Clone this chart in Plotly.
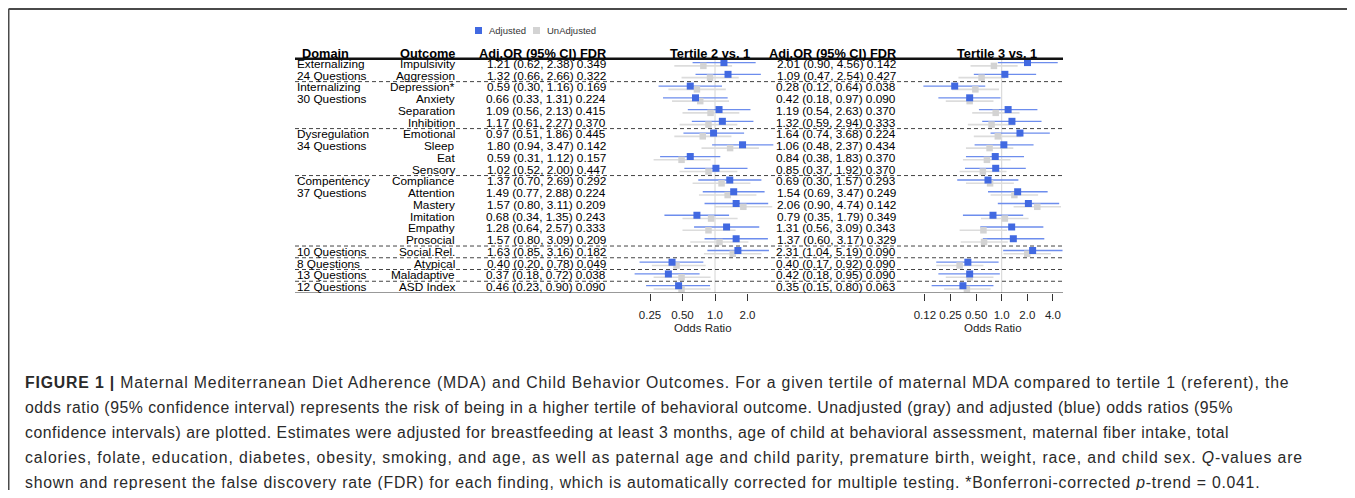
import math
import plotly.graph_objects as go

# ---------------- data ----------------
domains = ["Externalizing", "24 Questions", "Internalizing", "30 Questions", "", "",
           "Dysregulation", "34 Questions", "", "", "Compentency", "37 Questions",
           "", "", "", "", "10 Questions", "8 Questions", "13 Questions", "12 Questions"]
outcomes = ["Impulsivity", "Aggression", "Depression*", "Anxiety", "Separation", "Inhibition",
            "Emotional", "Sleep", "Eat", "Sensory", "Compliance", "Attention", "Mastery",
            "Imitation", "Empathy", "Prosocial", "Social.Rel.", "Atypical", "Maladaptive", "ASD Index"]

# Tertile 2 vs 1 - adjusted
t2_or = [1.21, 1.32, 0.59, 0.66, 1.09, 1.17, 0.97, 1.80, 0.59, 1.02, 1.37, 1.49, 1.57, 0.68, 1.28, 1.57, 1.63, 0.40, 0.37, 0.46]
t2_lo = [0.62, 0.66, 0.30, 0.33, 0.56, 0.61, 0.51, 0.94, 0.31, 0.52, 0.70, 0.77, 0.80, 0.34, 0.64, 0.80, 0.85, 0.20, 0.18, 0.23]
t2_hi = [2.38, 2.66, 1.16, 1.31, 2.13, 2.27, 1.86, 3.47, 1.12, 2.00, 2.69, 2.88, 3.11, 1.35, 2.57, 3.09, 3.16, 0.78, 0.72, 0.90]
t2_fdr = [0.349, 0.322, 0.169, 0.224, 0.415, 0.370, 0.445, 0.142, 0.157, 0.447, 0.292, 0.224, 0.209, 0.243, 0.333, 0.209, 0.182, 0.049, 0.038, 0.090]
# Tertile 2 vs 1 - unadjusted
t2_un_or = [0.78, 0.90, 0.68, 0.73, 0.91, 0.87, 0.77, 1.38, 0.49, 0.87, 1.15, 1.31, 1.83, 0.92, 0.87, 1.10, 1.46, 0.44, 0.49, 0.49]
t2_un_lo = [0.42, 0.49, 0.37, 0.40, 0.50, 0.47, 0.42, 0.75, 0.27, 0.47, 0.62, 0.71, 0.99, 0.50, 0.50, 0.59, 0.79, 0.26, 0.27, 0.27]
t2_un_hi = [1.44, 1.66, 1.26, 1.35, 1.68, 1.61, 1.42, 2.55, 0.91, 1.61, 2.13, 2.42, 3.39, 1.62, 1.55, 2.04, 2.70, 0.82, 0.91, 0.91]

# Tertile 3 vs 1 - adjusted
t3_or = [2.01, 1.09, 0.28, 0.42, 1.19, 1.32, 1.64, 1.06, 0.84, 0.85, 0.69, 1.54, 2.06, 0.79, 1.31, 1.37, 2.31, 0.40, 0.42, 0.35]
t3_lo = [0.90, 0.47, 0.12, 0.18, 0.54, 0.59, 0.74, 0.48, 0.38, 0.37, 0.30, 0.69, 0.90, 0.35, 0.56, 0.60, 1.04, 0.17, 0.18, 0.15]
t3_hi = [4.56, 2.54, 0.64, 0.97, 2.63, 2.94, 3.68, 2.37, 1.83, 1.92, 1.57, 3.47, 4.74, 1.79, 3.09, 3.17, 5.19, 0.92, 0.95, 0.80]
t3_fdr = [0.142, 0.427, 0.038, 0.090, 0.370, 0.333, 0.224, 0.434, 0.370, 0.370, 0.293, 0.249, 0.142, 0.349, 0.343, 0.329, 0.090, 0.090, 0.090, 0.063]
# Tertile 3 vs 1 - unadjusted
t3_un_or = [0.81, 0.58, 0.49, 0.42, 0.85, 0.76, 0.90, 0.72, 0.67, 0.60, 0.73, 1.41, 2.62, 1.09, 0.61, 0.62, 2.00, 0.32, 0.42, 0.39]
t3_un_lo = [0.43, 0.31, 0.26, 0.22, 0.45, 0.40, 0.47, 0.38, 0.35, 0.32, 0.38, 0.74, 1.38, 0.57, 0.32, 0.33, 1.05, 0.17, 0.22, 0.21]
t3_un_hi = [1.54, 1.10, 0.93, 0.80, 1.62, 1.44, 1.71, 1.37, 1.27, 1.14, 1.39, 2.68, 4.98, 2.07, 1.16, 1.18, 3.80, 0.61, 0.80, 0.74]

t2_ticks = [0.25, 0.5, 1, 2]
t2_ticktext = ["0.25", "0.50", "1.0", "2.0"]
t3_ticks = [0.125, 0.25, 0.5, 1, 2, 4]
t3_ticktext = ["0.12", "0.25", "0.50", "1.0", "2.0", "4.0"]

section_breaks = [1.5, 5.5, 9.5, 15.5, 16.5, 17.5, 18.5]

caption_lines = [
    "<b>FIGURE 1 |</b> Maternal Mediterranean Diet Adherence (MDA) and Child Behavior Outcomes. For a given tertile of maternal MDA compared to tertile 1 (referent), the",
    "odds ratio (95% confidence interval) represents the risk of being in a higher tertile of behavioral outcome. Unadjusted (gray) and adjusted (blue) odds ratios (95%",
    "confidence intervals) are plotted. Estimates were adjusted for breastfeeding at least 3 months, age of child at behavioral assessment, maternal fiber intake, total",
    "calories, folate, education, diabetes, obesity, smoking, and age, as well as paternal age and child parity, premature birth, weight, race, and child sex. <i>Q</i>-values are",
    "shown and represent the false discovery rate (FDR) for each finding, which is automatically corrected for multiple testing. *Bonferroni-corrected <i>p</i>-trend = 0.041.",
]
# tracking (px) per caption line so the ragged line ends match the reference typeface
caption_tracking = [0.845, 0.51, 0.54, 0.90, 0.75]

# ---------------- layout geometry (screen pixels; page body has an 8px margin) ----------------
OFF = 8
W, H = 1355 - 2 * OFF, 498 - 2 * OFF
FONT = "Liberation Sans, Arial, Helvetica, sans-serif"
BLUE = "#4169E1"
BLUE_LINE = "#6d8ded"
GRAY = "#d3d3d3"
GRAY_LINE = "#dcdcdc"

n = len(outcomes)
ROW0_PX, ROW_STEP = 64.0, 11.743
AXIS_PX = 293.0
top_idx = (OFF - ROW0_PX) / ROW_STEP
bot_idx = (AXIS_PX - ROW0_PX) / ROW_STEP


def X(p):
    return (p - OFF) / W


def Y(p):
    return 1 - (p - OFF) / H


def log_range(p0, p1, p_one, px_per_doubling):
    lo = 2 ** ((p0 - p_one) / px_per_doubling)
    hi = 2 ** ((p1 - p_one) / px_per_doubling)
    return [math.log10(lo), math.log10(hi)]


T2_DOM = (630, 775)
T3_DOM = (915, 1063)
t2_range = log_range(T2_DOM[0], T2_DOM[1], 715.0, 32.5)
t3_range = log_range(T3_DOM[0], T3_DOM[1], 1001.7, 25.6)

fig = go.Figure()

rows = list(range(n))
y_adj = [r - 0.12 for r in rows]
y_un = [r + 0.16 for r in rows]


def seg(lo, hi, ys):
    xs, yy = [], []
    for a, b, y in zip(lo, hi, ys):
        xs += [a, b, None]
        yy += [y, y, None]
    return xs, yy


for xa, (u_or, u_lo, u_hi, a_or, a_lo, a_hi) in [
    ("x", (t2_un_or, t2_un_lo, t2_un_hi, t2_or, t2_lo, t2_hi)),
    ("x2", (t3_un_or, t3_un_lo, t3_un_hi, t3_or, t3_lo, t3_hi)),
]:
    fig.add_trace(go.Scatter(x=[1, 1], y=[-0.45, bot_idx], xaxis=xa, yaxis="y", mode="lines",
                             line=dict(color="#d4d4d4", width=1), hoverinfo="skip"))
    xs, yy = seg(u_lo, u_hi, y_un)
    fig.add_trace(go.Scatter(x=xs, y=yy, xaxis=xa, yaxis="y", mode="lines",
                             line=dict(color=GRAY_LINE, width=1.6), hoverinfo="skip"))
    xs, yy = seg(a_lo, a_hi, y_adj)
    fig.add_trace(go.Scatter(x=xs, y=yy, xaxis=xa, yaxis="y", mode="lines",
                             line=dict(color=BLUE_LINE, width=1.3), hoverinfo="skip"))
    fig.add_trace(go.Scatter(x=u_or, y=y_un, xaxis=xa, yaxis="y", mode="markers", name="UnAdjusted",
                             marker=dict(symbol="square", size=6.5, color=GRAY, line=dict(width=0))))
    fig.add_trace(go.Scatter(x=a_or, y=y_adj, xaxis=xa, yaxis="y", mode="markers", name="Adjusted",
                             marker=dict(symbol="square", size=7, color=BLUE, line=dict(width=0))))

ann = []
txt_font = dict(family=FONT, size=11.8, color="#000")
hdr_font = dict(family=FONT, size=12.8, color="#000")
HDR_IDX = -0.93

for i in rows:
    if domains[i]:
        ann.append(dict(x=X(295), y=i, xref="paper", yref="y", text=domains[i], xanchor="left",
                        yanchor="middle", showarrow=False, font=txt_font))
    ann.append(dict(x=X(457), y=i, xref="paper", yref="y", text=outcomes[i], xanchor="right",
                    yanchor="middle", showarrow=False, font=txt_font))
    ann.append(dict(x=X(608), y=i, xref="paper", yref="y",
                    text=f"{t2_or[i]:.2f} ({t2_lo[i]:.2f}, {t2_hi[i]:.2f}) {t2_fdr[i]:.3f}",
                    xanchor="right", yanchor="middle", showarrow=False, font=txt_font))
    ann.append(dict(x=X(898), y=i, xref="paper", yref="y",
                    text=f"{t3_or[i]:.2f} ({t3_lo[i]:.2f}, {t3_hi[i]:.2f}) {t3_fdr[i]:.3f}",
                    xanchor="right", yanchor="middle", showarrow=False, font=txt_font))

headers = [
    (300, "left", "Domain"),
    (457, "right", "Outcome"),
    (608, "right", "Adj.OR (95% CI) FDR"),
    (710, "center", "Tertile 2 vs. 1"),
    (898, "right", "Adj.OR (95% CI) FDR"),
    (997, "center", "Tertile 3 vs. 1"),
]
for x, anc, t in headers:
    ann.append(dict(x=X(x), y=HDR_IDX, xref="paper", yref="y", text=f"<b>{t}</b>", xanchor=anc,
                    yanchor="middle", showarrow=False, font=hdr_font))

for x in (703, 993):
    ann.append(dict(x=X(x), y=Y(328), xref="paper", yref="paper", text="Odds Ratio",
                    xanchor="center", yanchor="middle", showarrow=False,
                    font=dict(family=FONT, size=11.5, color="#222")))

# legend
leg_font = dict(family=FONT, size=9.5, color="#333")
ann.append(dict(x=X(487), y=Y(30.5), xref="paper", yref="paper", text="Adjusted", xanchor="left",
                yanchor="middle", showarrow=False, font=leg_font))
ann.append(dict(x=X(545), y=Y(30.5), xref="paper", yref="paper", text="UnAdjusted", xanchor="left",
                yanchor="middle", showarrow=False, font=leg_font))

# caption
cap_font = dict(family=FONT, size=15.8, color="#2a2a2a")
for k, (line, tr) in enumerate(zip(caption_lines, caption_tracking)):
    ann.append(dict(x=X(22.5), y=Y(382 + 25 * k), xref="paper", yref="paper",
                    text=f'<span style="letter-spacing:{tr}px">{line}</span>',
                    xanchor="left", yanchor="middle", showarrow=False, font=cap_font,
                    height=18, valign="middle"))

shapes = []
x_l, x_r = X(295), X(1063)
shapes.append(dict(type="line", xref="paper", yref="y", x0=x_l, x1=x_r, y0=-0.45, y1=-0.45,
                   line=dict(color="#111", width=2.5)))
shapes.append(dict(type="line", xref="paper", yref="y", x0=x_l, x1=x_r, y0=bot_idx, y1=bot_idx,
                   line=dict(color="#333", width=1)))
for b in section_breaks:
    shapes.append(dict(type="line", xref="paper", yref="y", x0=x_l, x1=x_r, y0=b, y1=b,
                       line=dict(color="#444", width=1, dash="4px,3px")))
# legend squares
shapes.append(dict(type="rect", xref="paper", yref="paper", x0=X(475), x1=X(482),
                   y0=Y(34), y1=Y(27), fillcolor=BLUE, line=dict(width=0)))
shapes.append(dict(type="rect", xref="paper", yref="paper", x0=X(533), x1=X(540),
                   y0=Y(34), y1=Y(27), fillcolor=GRAY, line=dict(width=0)))
# frame (top and left)
shapes.append(dict(type="line", xref="paper", yref="paper", x0=X(8.5), x1=1, y0=Y(9), y1=Y(9),
                   line=dict(color="#4a4a4a", width=2)))
shapes.append(dict(type="line", xref="paper", yref="paper", x0=X(8.5), x1=X(8.5), y0=0, y1=Y(9),
                   line=dict(color="#4a4a4a", width=2)))

axis_common = dict(type="log", showgrid=False, zeroline=False, showline=False, ticks="outside",
                   ticklen=7, tickcolor="#333", tickwidth=1, anchor="y", fixedrange=True,
                   tickfont=dict(family=FONT, size=11.5, color="#222"), ticklabelstandoff=4)

fig.update_layout(
    width=W, height=H, margin=dict(l=0, r=0, t=0, b=0),
    paper_bgcolor="white", plot_bgcolor="white", showlegend=False,
    xaxis=dict(domain=[X(T2_DOM[0]), X(T2_DOM[1])], range=t2_range, tickvals=t2_ticks,
               ticktext=t2_ticktext, **axis_common),
    xaxis2=dict(domain=[X(T3_DOM[0]), X(T3_DOM[1])], range=t3_range, tickvals=t3_ticks,
                ticktext=t3_ticktext, **axis_common),
    yaxis=dict(domain=[Y(AXIS_PX), 1], range=[bot_idx, top_idx], visible=False, fixedrange=True),
    annotations=ann, shapes=shapes,
)

fig.write_html("out.html")
